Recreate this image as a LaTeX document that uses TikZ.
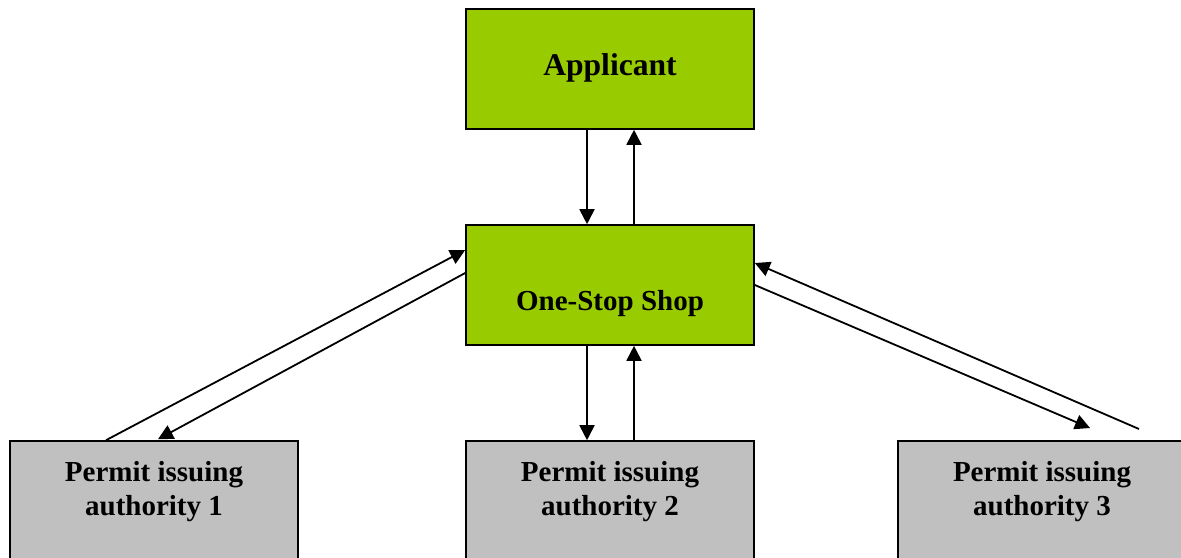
\documentclass[tikz,border=0pt]{standalone}
\usepackage{fontspec}
\setmainfont{Liberation Serif}
\usetikzlibrary{arrows.meta}
\definecolor{shopgreen}{HTML}{99CC00}
\definecolor{permitgrey}{HTML}{C0C0C0}
\begin{document}
\begin{tikzpicture}[x=0.5pt,y=-0.5pt,
  boxbase/.style={draw=black,line width=0.8pt,minimum width=144pt,minimum height=60pt,inner sep=0pt},
  greenbox/.style={boxbase,fill=shopgreen},
  greybox/.style={boxbase,fill=permitgrey},
  bigtxt/.style={font=\bfseries\fontsize{15.8}{19}\selectfont,inner sep=0pt,anchor=base},
  txt/.style={font=\bfseries\fontsize{14.5}{16.5}\selectfont,inner sep=0pt,anchor=base,align=center},
  arr/.style={line width=0.9pt,-{Triangle[length=7.5pt,width=7.5pt]}},
  plain/.style={line width=0.9pt}]
\useasboundingbox (0,0) rectangle (1181,557);

% boxes
\node[greenbox] (app) at (610,69) {};
\node[greenbox] (oss) at (610,285) {};
\node[greybox] (p1) at (154,501) {};
\node[greybox] (p2) at (610,501) {};
\node[greybox,minimum width=150pt] (p3) at (1048,501) {};

% labels
\node[bigtxt] (tapp) at (610,75) {Applicant};
\node[txt] (toss) at (610,310) {One-Stop Shop};
\node[txt] (tp1a) at (154,481) {Permit issuing};
\node[txt] (tp1b) at (154,515) {authority 1};
\node[txt] (tp2a) at (610,481) {Permit issuing};
\node[txt] (tp2b) at (610,515) {authority 2};
\node[txt] (tp3a) at (1042,481) {Permit issuing};
\node[txt] (tp3b) at (1042,515) {authority 3};

% applicant <-> one-stop shop
\draw[arr] ([xshift=-11.5pt]app.south) -- ([xshift=-11.5pt]oss.north);
\draw[arr] ([xshift=12pt]oss.north) -- ([xshift=12pt]app.south);

% one-stop shop <-> authority 2
\draw[arr] ([xshift=-11.5pt]oss.south) -- ([xshift=-11.5pt]p2.north);
\draw[arr] ([xshift=12pt]p2.north) -- ([xshift=12pt]oss.south);

% one-stop shop <-> authority 1
\draw[arr] ([xshift=-24pt]p1.north) -- ([yshift=17.5pt]oss.west);
\draw[arr] ([yshift=6pt]oss.west) -- ([xshift=2pt,yshift=0.5pt]p1.north);

% one-stop shop <-> authority 3
\coordinate (r3a) at (1139,429);
\coordinate (r3b) at (1090,428);
\draw[arr] (r3a) -- ([yshift=11pt]oss.east);
\draw[arr] (oss.east) -- (r3b);
\end{tikzpicture}
\end{document}
